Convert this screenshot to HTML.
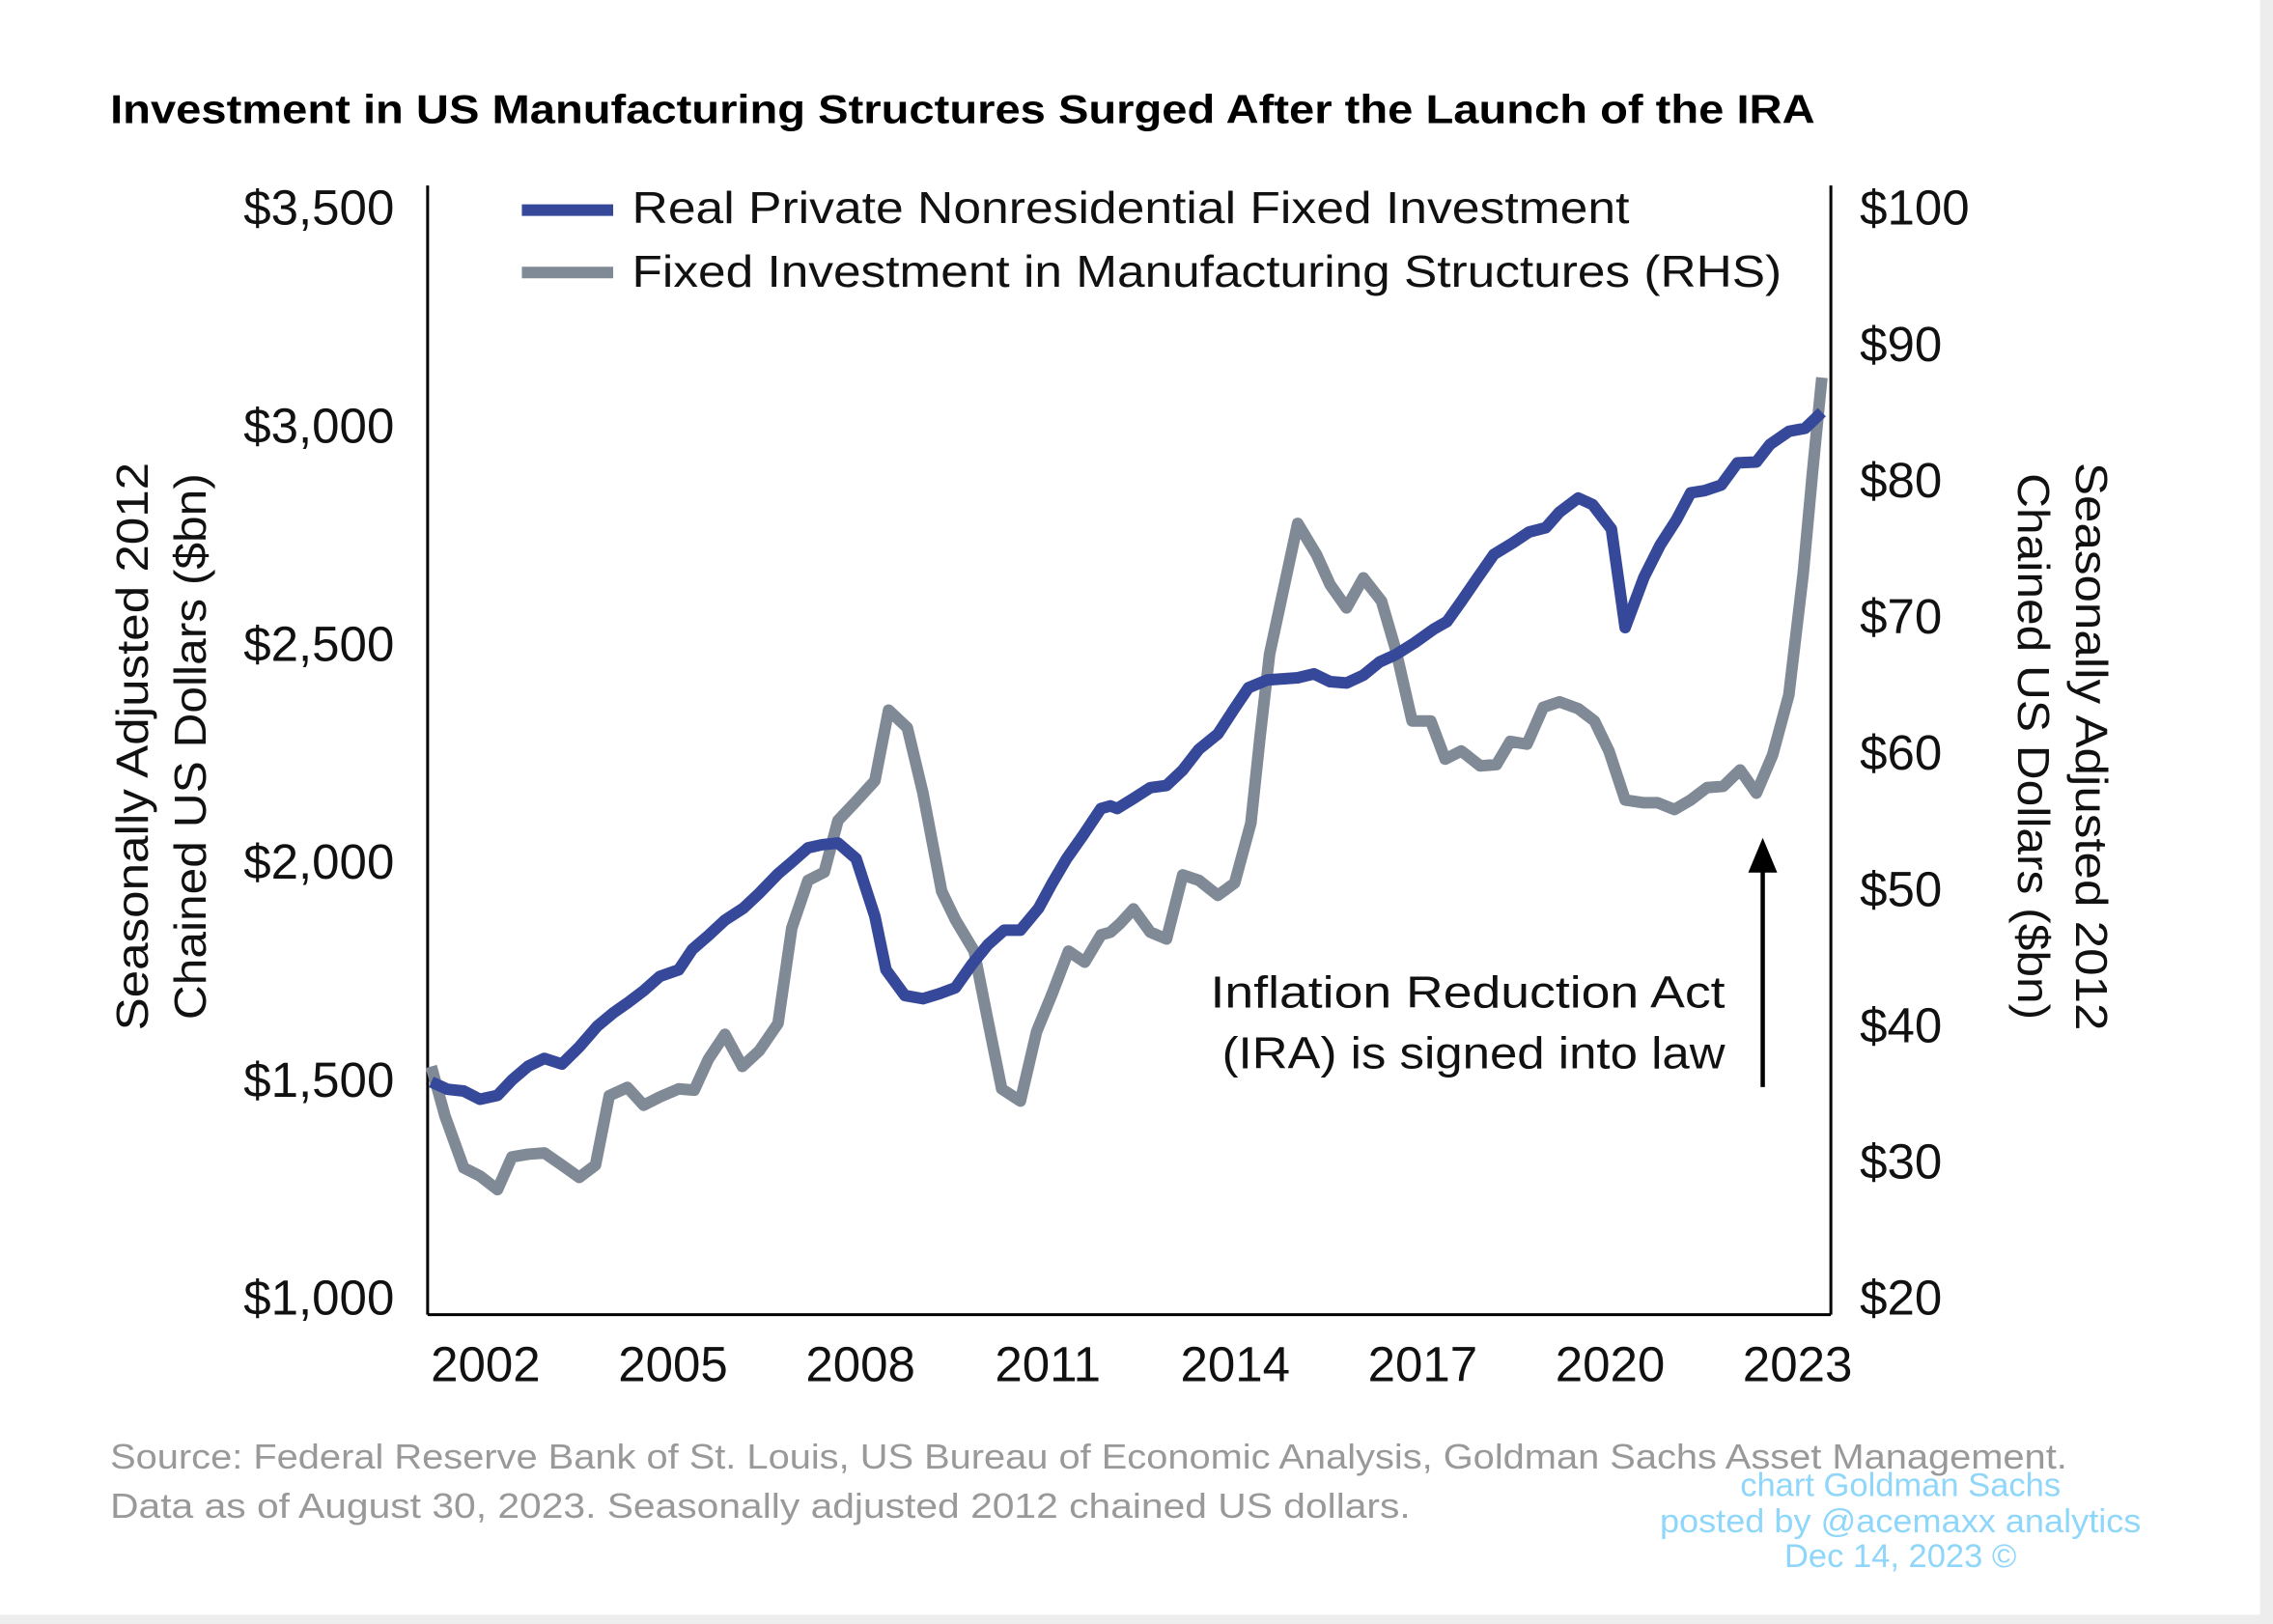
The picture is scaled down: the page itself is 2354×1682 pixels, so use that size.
<!DOCTYPE html>
<html><head><meta charset="utf-8"><style>
html,body{margin:0;padding:0;background:#ededed;}
svg{display:block;}
text{font-family:"Liberation Sans","DejaVu Sans",sans-serif;}
</style></head><body>
<svg id="chart" width="2354" height="1682" viewBox="0 0 1568 1120.4" preserveAspectRatio="none" xmlns="http://www.w3.org/2000/svg">
<rect x="0" y="0" width="1559" height="1114" fill="#ffffff"/>
<text x="76" y="85" font-size="28" font-weight="bold" fill="#000" textLength="1176" lengthAdjust="spacingAndGlyphs">Investment in US Manufacturing Structures Surged After the Launch of the IRA</text>
<g id="axes"></g>
<g id="series"></g>
<g>
<line x1="360" y1="145" x2="423" y2="145" stroke="#36489a" stroke-width="8"/>
<text x="436" y="154" font-size="31" fill="#111" textLength="688" lengthAdjust="spacingAndGlyphs">Real Private Nonresidential Fixed Investment</text>
<line x1="360" y1="188" x2="423" y2="188" stroke="#808a96" stroke-width="8"/>
<text x="436" y="198" font-size="31" fill="#111" textLength="793" lengthAdjust="spacingAndGlyphs">Fixed Investment in Manufacturing Structures (RHS)</text>
</g>
<g>
<text x="1190" y="695" font-size="31" fill="#111" text-anchor="end" textLength="355" lengthAdjust="spacingAndGlyphs">Inflation Reduction Act</text>
<text x="1190" y="737" font-size="31" fill="#111" text-anchor="end" textLength="347" lengthAdjust="spacingAndGlyphs">(IRA) is signed into law</text>
<line x1="1216" y1="750" x2="1216" y2="595" stroke="#000" stroke-width="3"/>
<polygon points="1216,578 1206,602 1226,602" fill="#000"/>
</g>
<text transform="translate(102,515) rotate(-90)" font-size="31" fill="#111" text-anchor="middle" textLength="392" lengthAdjust="spacingAndGlyphs">Seasonally Adjusted 2012</text>
<text transform="translate(142,515) rotate(-90)" font-size="31" fill="#111" text-anchor="middle" textLength="377" lengthAdjust="spacingAndGlyphs">Chained US Dollars ($bn)</text>
<text transform="translate(1432,515) rotate(90)" font-size="31" fill="#111" text-anchor="middle" textLength="392" lengthAdjust="spacingAndGlyphs">Seasonally Adjusted 2012</text>
<text transform="translate(1392,515) rotate(90)" font-size="31" fill="#111" text-anchor="middle" textLength="377" lengthAdjust="spacingAndGlyphs">Chained US Dollars ($bn)</text>
<text x="76" y="1013" font-size="24" fill="#999" textLength="1350" lengthAdjust="spacingAndGlyphs">Source: Federal Reserve Bank of St. Louis, US Bureau of Economic Analysis, Goldman Sachs Asset Management.</text>
<text x="76" y="1047" font-size="24" fill="#999" textLength="897" lengthAdjust="spacingAndGlyphs">Data as of August 30, 2023. Seasonally adjusted 2012 chained US dollars.</text>
<g fill="#8fd6fb" font-size="23" text-anchor="middle">
<text x="1311" y="1032">chart Goldman Sachs</text>
<text x="1311" y="1057" textLength="332" lengthAdjust="spacingAndGlyphs">posted by @acemaxx analytics</text>
<text x="1311" y="1081">Dec 14, 2023 ©</text>
</g>
</svg>
<script>
const blueDates=[2001.13,2001.39,2001.65,2001.91,2002.19,2002.42,2002.68,2002.94,2003.22,2003.50,2003.79,2004.05,2004.27,2004.53,2004.79,2005.09,2005.31,2005.57,2005.83,2006.12,2006.38,2006.68,2006.90,2007.16,2007.38,2007.64,2007.93,2008.23,2008.41,2008.71,2009.00,2009.26,2009.52,2009.78,2010.04,2010.30,2010.56,2010.85,2011.07,2011.30,2011.56,2011.85,2012.00,2012.11,2012.37,2012.64,2012.90,2013.16,2013.42,2013.72,2013.99,2014.21,2014.51,2015.00,2015.26,2015.52,2015.78,2016.05,2016.31,2016.57,2016.87,2017.17,2017.39,2017.62,2017.88,2018.14,2018.44,2018.70,2018.97,2019.19,2019.49,2019.72,2020.02,2020.24,2020.54,2020.80,2021.06,2021.29,2021.51,2021.78,2022.04,2022.34,2022.56,2022.86,2023.12,2023.39];
const blueValues=[1494,1477,1473,1454,1463,1498,1530,1548,1535,1574,1622,1653,1675,1703,1736,1751,1798,1830,1865,1892,1927,1971,1998,2031,2038,2042,2006,1874,1751,1692,1685,1696,1710,1763,1809,1842,1842,1892,1950,2006,2059,2121,2127,2121,2144,2169,2174,2209,2257,2292,2351,2398,2416,2421,2430,2412,2409,2427,2457,2474,2501,2532,2550,2596,2651,2704,2730,2755,2765,2801,2833,2818,2762,2536,2651,2725,2783,2845,2850,2863,2914,2916,2956,2986,2993,3030];
const grayDates=[2001.13,2001.35,2001.65,2001.91,2002.19,2002.42,2002.68,2002.94,2003.22,2003.50,2003.76,2003.98,2004.27,2004.53,2004.79,2005.09,2005.34,2005.57,2005.83,2006.11,2006.38,2006.68,2006.90,2007.16,2007.42,2007.64,2007.93,2008.23,2008.45,2008.75,2009.00,2009.30,2009.52,2009.82,2010.04,2010.26,2010.56,2010.82,2011.07,2011.33,2011.59,2011.85,2012.00,2012.15,2012.37,2012.64,2012.90,2013.16,2013.42,2013.72,2013.99,2014.25,2014.40,2014.55,2015.00,2015.30,2015.52,2015.78,2016.05,2016.34,2016.57,2016.83,2017.13,2017.36,2017.62,2017.92,2018.18,2018.40,2018.67,2018.93,2019.19,2019.49,2019.75,2019.98,2020.24,2020.54,2020.76,2021.03,2021.29,2021.55,2021.81,2022.08,2022.34,2022.60,2022.86,2023.09,2023.24,2023.39];
const grayValues=[36.95,33.3,29.5,28.9,27.9,30.3,30.5,30.6,29.7,28.8,29.7,34.8,35.4,34.1,34.7,35.3,35.2,37.5,39.3,36.95,38.1,40.1,47.1,50.6,51.2,55.0,56.4,57.9,63.1,61.8,57.0,49.8,47.7,45.4,40.3,35.3,34.4,39.5,42.3,45.4,44.6,46.6,46.8,47.4,48.5,46.8,46.3,51.0,50.6,49.5,50.4,54.8,61.3,67.2,76.8,74.5,72.3,70.6,72.8,71.1,67.5,62.3,62.3,59.5,60.1,59.0,59.1,60.8,60.6,63.3,63.7,63.2,62.3,60.1,56.5,56.3,56.3,55.8,56.5,57.4,57.5,58.7,57.0,59.8,64.2,73.1,80.5,87.5];
const xTickLabels=[2002,2005,2008,2011,2014,2017,2020,2023];
const leftTicks=[1000,1500,2000,2500,3000,3500];
const rightTicks=[20,30,40,50,60,70,80,90,100];

const NS='http://www.w3.org/2000/svg';
const X0=295,X1=1263,YT=128,YB=907;
function xScale(y){return 335+(y-2002)*(1240-335)/21;}
function yLeft(v){return 895-(v-1000)*(895-143)/2500;}
function yRight(v){return 895-(v-20)*(895-143)/80;}
function mk(tag,attrs,parent){const e=document.createElementNS(NS,tag);for(const k in attrs)e.setAttribute(k,attrs[k]);parent.appendChild(e);return e;}
const axes=document.getElementById('axes');
const series=document.getElementById('series');
let e;
e=mk('line',{x1:X0,y1:YT,x2:X0,y2:YB,stroke:'#000','stroke-width':2},axes);


e=mk('line',{x1:X1,y1:YT,x2:X1,y2:YB,stroke:'#000','stroke-width':2},axes);


e=mk('line',{x1:X0,y1:YB,x2:X1,y2:YB,stroke:'#000','stroke-width':2},axes);


leftTicks.forEach(v=>{
  const t=mk('text',{x:272,y:yLeft(v)+12,'font-size':34,'text-anchor':'end',fill:'#111'},axes);
  t.textContent='$'+v.toLocaleString('en-US');
  
  
});
rightTicks.forEach(v=>{
  const t=mk('text',{x:1283,y:yRight(v)+12,'font-size':34,fill:'#111'},axes);
  t.textContent='$'+v;
  
  
});
xTickLabels.forEach(v=>{
  const t=mk('text',{x:xScale(v),y:953,'font-size':34,'text-anchor':'middle',fill:'#111'},axes);
  t.textContent=String(v);
  
  
});
function path(dates,vals,ys){return dates.map((d,i)=>(i?'L':'M')+xScale(d).toFixed(1)+','+ys(vals[i]).toFixed(1)).join(' ');}
const g=mk('path',{d:path(grayDates,grayValues,yRight),fill:'none',stroke:'#808a96','stroke-width':8,'stroke-linejoin':'round'},series);


const b=mk('path',{d:path(blueDates,blueValues,yLeft),fill:'none',stroke:'#36489a','stroke-width':8,'stroke-linejoin':'round'},series);


</script>
</body></html>
